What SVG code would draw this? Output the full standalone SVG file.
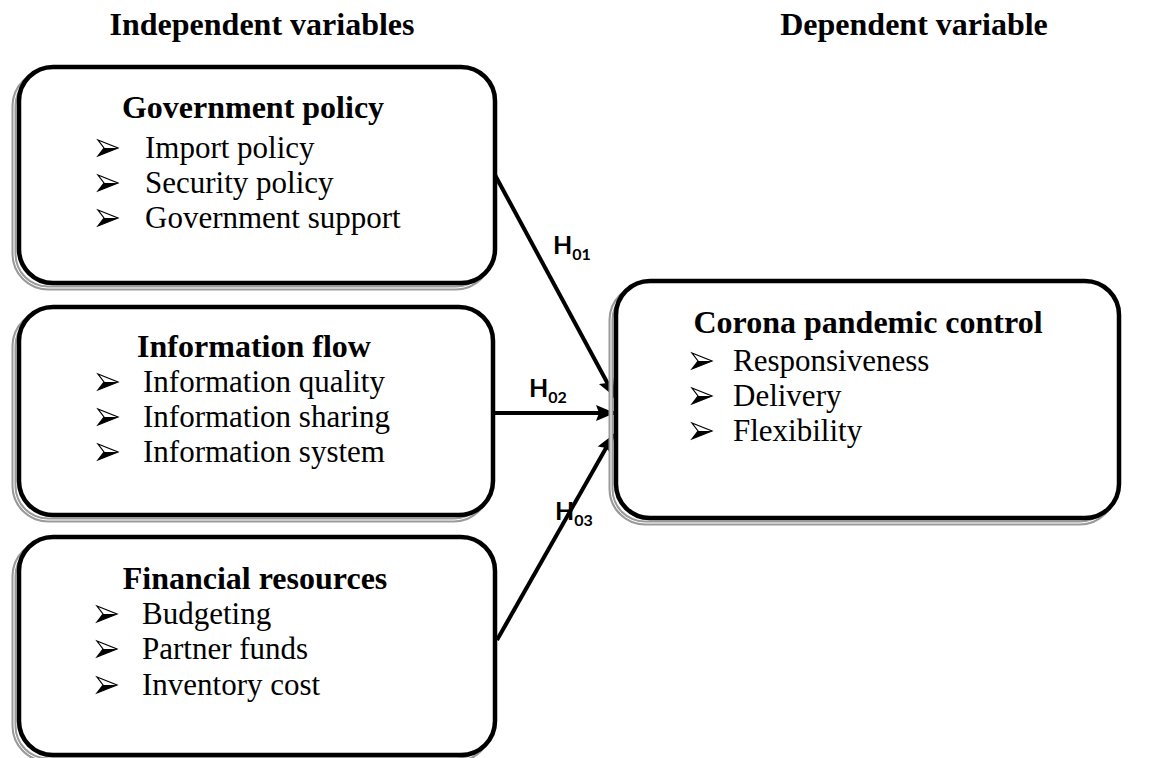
<svg xmlns="http://www.w3.org/2000/svg" xmlns:xlink="http://www.w3.org/1999/xlink" width="1160" height="758" viewBox="0 0 1160 758">
<defs>
<style>
.hdr{font-family:"Liberation Serif","Times New Roman",serif;font-size:32px;font-weight:bold;fill:#000;text-anchor:middle}
.ttl{font-family:"Liberation Serif","Times New Roman",serif;font-size:32px;font-weight:bold;fill:#000;text-anchor:middle}
.itm{font-family:"Liberation Serif","Times New Roman",serif;font-size:31px;fill:#000}
.box{fill:#fff;stroke:#000;stroke-width:4.5}
.sh{fill:none;stroke:#9a9a9a;stroke-width:5}
.shl{fill:none;stroke:#fff;stroke-width:1}
.lab{font-family:Lato,"Open Sans",sans-serif;font-weight:bold;fill:#000;font-size:25px}
.sub{font-size:16px}
.con{stroke:#000;stroke-width:4;fill:none;marker-end:url(#ah)}
</style>
<marker id="ah" markerUnits="userSpaceOnUse" markerWidth="22" markerHeight="18" refX="19" refY="8" orient="auto">
<path d="M0,0 L19,8 L0,16 L3,8 Z" fill="#000"/>
</marker>
<g id="bul">
<path d="M0,-8 L20,0 L0,8 L6,0 Z" fill="#fff" stroke="#000" stroke-width="1.2" stroke-linejoin="miter"/>
<path d="M6,0 L20,0 L0,8 Z" fill="#000"/>
</g>
</defs>
<rect width="1160" height="758" fill="#fff"/>

<text class="hdr" x="262" y="35">Independent variables</text>
<text class="hdr" x="914" y="35">Dependent variable</text>

<g id="connectors">
<line class="con" x1="495" y1="175" x2="615" y2="397"/>
<line class="con" x1="495" y1="413" x2="615" y2="413"/>
<line class="con" x1="497" y1="640" x2="614" y2="434"/>
<text class="lab" x="553" y="254">H<tspan class="sub" dy="6">01</tspan></text>
<text class="lab" x="529" y="397">H<tspan class="sub" dy="6">02</tspan></text>
<text class="lab" x="555" y="520">H<tspan class="sub" dy="6">03</tspan></text>
</g>

<g id="government-policy">
<rect class="sh" x="14" y="72" width="476" height="216" rx="34"/>
<rect class="shl" x="14" y="72" width="476" height="216" rx="34"/>
<rect class="box" x="19" y="67" width="476" height="216" rx="34"/>
<text class="ttl" x="253" y="118">Government policy</text>
<use xlink:href="#bul" x="98" y="148"/>
<text class="itm" x="145" y="158">Import policy</text>
<use xlink:href="#bul" x="98" y="183"/>
<text class="itm" x="145" y="193">Security policy</text>
<use xlink:href="#bul" x="98" y="218"/>
<text class="itm" x="145" y="228">Government support</text>
</g>

<g id="information-flow">
<rect class="sh" x="14" y="312" width="474" height="208" rx="34"/>
<rect class="shl" x="14" y="312" width="474" height="208" rx="34"/>
<rect class="box" x="19" y="307" width="474" height="208" rx="34"/>
<text class="ttl" x="254" y="357">Information flow</text>
<use xlink:href="#bul" x="98" y="382"/>
<text class="itm" x="143" y="392">Information quality</text>
<use xlink:href="#bul" x="98" y="417"/>
<text class="itm" x="143" y="427">Information sharing</text>
<use xlink:href="#bul" x="98" y="452"/>
<text class="itm" x="143" y="462">Information system</text>
</g>

<g id="financial-resources">
<rect class="sh" x="14" y="542" width="476" height="218" rx="34"/>
<rect class="shl" x="14" y="542" width="476" height="218" rx="34"/>
<rect class="box" x="19" y="537" width="476" height="218" rx="34"/>
<text class="ttl" x="255" y="589">Financial resources</text>
<use xlink:href="#bul" x="97" y="614"/>
<text class="itm" x="142" y="624">Budgeting</text>
<use xlink:href="#bul" x="97" y="649"/>
<text class="itm" x="142" y="659">Partner funds</text>
<use xlink:href="#bul" x="97" y="685"/>
<text class="itm" x="142" y="695">Inventory cost</text>
</g>

<g id="corona-pandemic-control">
<rect class="sh" x="611" y="286" width="503" height="237" rx="34"/>
<rect class="shl" x="611" y="286" width="503" height="237" rx="34"/>
<rect class="box" x="616" y="281" width="503" height="237" rx="34"/>
<text class="ttl" x="868" y="333">Corona pandemic control</text>
<use xlink:href="#bul" x="692" y="361"/>
<text class="itm" x="733" y="371">Responsiveness</text>
<use xlink:href="#bul" x="692" y="396"/>
<text class="itm" x="733" y="406">Delivery</text>
<use xlink:href="#bul" x="692" y="431"/>
<text class="itm" x="733" y="441">Flexibility</text>
</g>
</svg>
